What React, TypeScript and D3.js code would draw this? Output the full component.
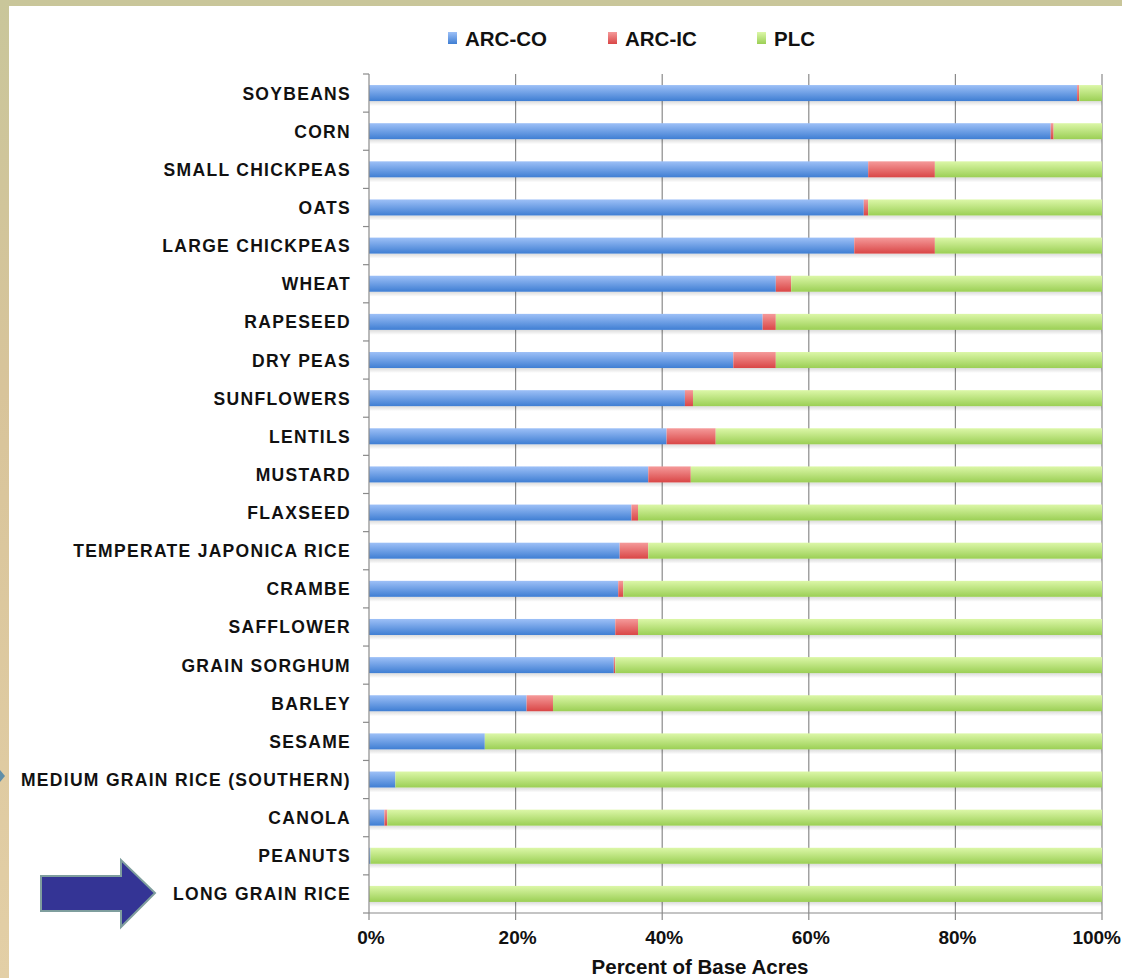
import * as d3 from "d3";

const categories = [
  "SOYBEANS", "CORN", "SMALL CHICKPEAS", "OATS", "LARGE CHICKPEAS", "WHEAT",
  "RAPESEED", "DRY PEAS", "SUNFLOWERS", "LENTILS", "MUSTARD", "FLAXSEED",
  "TEMPERATE JAPONICA RICE", "CRAMBE", "SAFFLOWER", "GRAIN SORGHUM", "BARLEY",
  "SESAME", "MEDIUM GRAIN RICE (SOUTHERN)", "CANOLA", "PEANUTS", "LONG GRAIN RICE",
];
const arcCo = [96.6, 93.0, 68.1, 67.5, 66.2, 55.5, 53.7, 49.7, 43.1, 40.6, 38.1, 35.8, 34.2, 34.0, 33.6, 33.4, 21.5, 15.8, 3.6, 2.1, 0.2, 0];
const arcIc = [0.3, 0.4, 9.1, 0.6, 11.0, 2.1, 1.8, 5.8, 1.1, 6.7, 5.8, 0.9, 3.9, 0.7, 3.1, 0.2, 3.6, 0, 0, 0.4, 0, 0];
const plc = [3.1, 6.6, 22.8, 31.9, 22.8, 42.4, 44.5, 44.5, 55.8, 52.7, 56.1, 63.3, 61.9, 65.3, 63.3, 66.4, 74.9, 84.2, 96.4, 97.5, 99.8, 100];
const seriesNames = ["ARC-CO", "ARC-IC", "PLC"];
const ticks = [0, 20, 40, 60, 80, 100];

// gradient stops: top (light) -> bottom (dark)
const colors: Record<string, [string, string]> = {
  "ARC-CO": ["#9dc0f7", "#3f7ed3"],
  "ARC-IC": ["#f59a9a", "#d94646"],
  PLC: ["#dcf7a8", "#9bcf55"],
};

const W = 1122;
const H = 978;
const left = 369;
const right = 1102;
const top = 74;
const bottom = 913;
const sans = "'Liberation Sans', Arial, sans-serif";

export default function App() {
  const x = d3.scaleLinear().domain([0, 100]).range([left, right]);
  const y = d3.scaleBand().domain(categories).range([top, bottom]).paddingInner(0.58).paddingOuter(0.29);

  const rows = categories.map((c, i) => ({ cat: c, "ARC-CO": arcCo[i], "ARC-IC": arcIc[i], PLC: plc[i] }));
  const stacked = d3.stack<any>().keys(seriesNames)(rows);
  const bh = y.bandwidth();
  const bounds = d3.range(categories.length + 1).map((i) => top + i * ((bottom - top) / categories.length));

  return (
    <svg width={W} height={H} style={{ position: "absolute", left: 0, top: 0, display: "block" }}>
      <defs>
        {seriesNames.map((s, i) => (
          <linearGradient key={s} id={"g" + i} x1="0" y1="0" x2="0" y2="1">
            <stop offset="0%" stopColor={colors[s][0]} />
            <stop offset="100%" stopColor={colors[s][1]} />
          </linearGradient>
        ))}
        <linearGradient id="bg" x1="0" y1="0" x2="0" y2="1">
          <stop offset="0%" stopColor="#c9c69a" />
          <stop offset="40%" stopColor="#d8c49a" />
          <stop offset="100%" stopColor="#e3cfa6" />
        </linearGradient>
        <linearGradient id="shadow" x1="0" y1="0" x2="0" y2="1">
          <stop offset="0%" stopColor="#000" stopOpacity={0.14} />
          <stop offset="100%" stopColor="#000" stopOpacity={0} />
        </linearGradient>
      </defs>
      <rect width={W} height={H} fill="url(#bg)" />
      <rect x={9} y={6} width={W - 9} height={H - 6} fill="#ffffff" />

      {/* legend */}
      <g fontFamily={sans} fontWeight="bold" fontSize={20.5} fill="#111">
        {seriesNames.map((s, i) => {
          const lx = [448, 608, 757][i];
          return (
            <g key={s}>
              <rect x={lx} y={32} width={9} height={12} fill={"url(#g" + i + ")"} />
              <text x={lx + 17} y={45.5}>{s}</text>
            </g>
          );
        })}
      </g>

      {/* gridlines */}
      <g stroke="#8a8a8a" strokeWidth={1.2}>
        {ticks.slice(1).map((t) => (
          <line key={t} x1={x(t)} x2={x(t)} y1={top} y2={bottom + 7} />
        ))}
      </g>

      {/* bar shadows */}
      <g fill="url(#shadow)">
        {categories.map((c) => (
          <rect key={c} x={left + 1} y={(y(c) as number) + bh} width={right - left - 1} height={5} />
        ))}
      </g>

      {/* bars */}
      {stacked.map((layer, i) => (
        <g key={layer.key} fill={"url(#g" + i + ")"}>
          {layer.map((d: any) => {
            const w = x(d[1]) - x(d[0]);
            if (w <= 0) return null;
            return <rect key={d.data.cat} x={x(d[0])} y={y(d.data.cat)} width={w} height={bh} />;
          })}
        </g>
      ))}

      {/* axes */}
      <g stroke="#8a8a8a" strokeWidth={1.2}>
        <line x1={left} x2={left} y1={top} y2={bottom} />
        {bounds.map((b, i) => (
          <line key={i} x1={left - 6} x2={left} y1={b} y2={b} />
        ))}
        <line x1={left} x2={right} y1={bottom} y2={bottom} />
        <line x1={left} x2={left} y1={bottom} y2={bottom + 7} />
      </g>

      {/* category labels */}
      <g fontFamily={sans} fontWeight="bold" fontSize={17.5} fill="#111" textAnchor="end" letterSpacing={1.3}>
        {categories.map((c) => (
          <text key={c} x={351} y={(y(c) as number) + bh / 2 + 6.5}>{c}</text>
        ))}
      </g>

      {/* x tick labels */}
      <g fontFamily={sans} fontWeight="bold" fontSize={19} fill="#111" textAnchor="middle">
        {ticks.map((t) =>
          t === 100 ? (
            <text key={t} x={1121} y={944} textAnchor="end">{t + "%"}</text>
          ) : (
            <text key={t} x={x(t) + 2} y={944}>{t + "%"}</text>
          )
        )}
      </g>
      <text x={700} y={974} fontFamily={sans} fontWeight="bold" fontSize={20.5} textAnchor="middle" fill="#111">
        Percent of Base Acres
      </text>

      {/* arrow */}
      <path
        d="M41,876 L121,876 L121,860 L155,893 L121,927 L121,911 L41,911 Z"
        fill="#343495"
        stroke="#7f9e9e"
        strokeWidth={2}
      />
      <path d="M0,770 L5,776 L0,782 Z" fill="#5f8ea8" />
    </svg>
  );
}
